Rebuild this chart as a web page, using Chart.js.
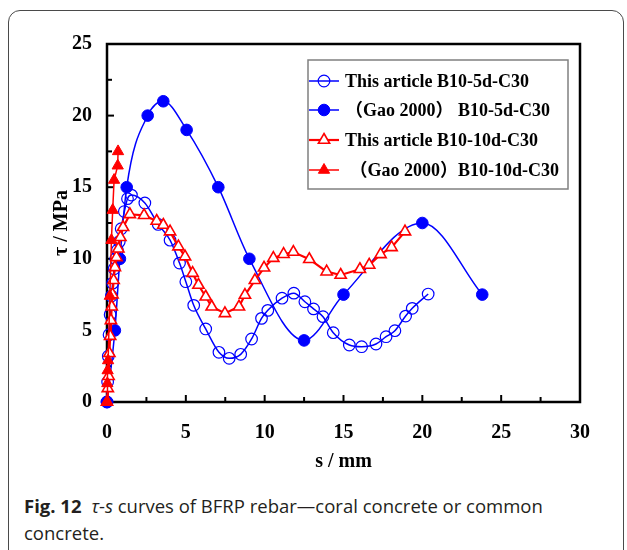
<!DOCTYPE html>
<html>
<head>
<meta charset="utf-8">
<script src="https://cdn.jsdelivr.net/npm/chart.js@4/dist/chart.umd.min.js"></script>
<style>
  html, body { margin: 0; padding: 0; background: #fff; }
  body { width: 627px; height: 550px; position: relative; overflow: hidden; }
  #card {
    position: absolute; left: 8px; top: 10px; width: 616px; height: 700px;
    border: 1px solid #4a4a4a; border-radius: 12px; box-sizing: border-box;
  }
  #wrap { position: absolute; left: 0; top: 0; width: 627px; height: 480px; }
  #caption {
    position: absolute; left: 24px; top: 492px; width: 560px;
    font-family: "Open Sans", sans-serif; font-size: 18.5px; line-height: 27px; color: #231f20;
  }
  #caption b { font-weight: 700; }
</style>
</head>
<body>
<div id="card"></div>
<div id="wrap"><canvas id="c" width="627" height="480"></canvas></div>
<div id="caption"><b>Fig. 12</b>&nbsp; <i>τ</i>-<i>s</i> curves of BFRP rebar—coral concrete or common concrete.</div>
<script>
// Series: slip s (mm) and bond stress τ (MPa)
const seriesNames = [
  'This article B10-5d-C30',
  '（Gao 2000） B10-5d-C30',
  'This article B10-10d-C30',
  ' （Gao 2000）B10-10d-C30'
];

const art5dS   = [0, 0.04, 0.08, 0.13, 0.2, 0.28, 0.36, 0.45, 0.55, 0.66, 0.78, 0.9, 1.1, 1.3, 1.55, 2.4, 3.25, 4.0, 4.6, 5.0, 5.5, 6.26, 7.1, 7.75, 8.48, 9.17, 9.8, 10.2, 11.1, 11.85, 12.55, 13.1, 13.7, 14.35, 15.37, 16.15, 17.06, 17.7, 18.26, 18.94, 19.36, 20.37];
const art5dTau = [0, 1.4, 3.2, 4.7, 6.1, 7.4, 8.3, 9.3, 10.0, 10.6, 11.2, 12.1, 13.3, 14.2, 14.45, 13.9, 12.4, 11.3, 9.7, 8.4, 6.75, 5.1, 3.47, 3.05, 3.33, 4.4, 5.84, 6.4, 7.25, 7.6, 7.0, 6.5, 5.96, 4.84, 3.98, 3.86, 4.05, 4.56, 4.98, 6.0, 6.54, 7.54];

const gao5dS   = [0, 0.5, 0.82, 1.25, 2.58, 3.57, 5.05, 7.06, 9.03, 12.5, 15.0, 20.0, 23.8];
const gao5dTau = [0, 5.0, 10.0, 15.0, 20.0, 21.0, 19.0, 15.0, 10.0, 4.3, 7.5, 12.5, 7.5];

const art10dS   = [0, 0.05, 0.1, 0.15, 0.2, 0.25, 0.3, 0.35, 0.42, 0.5, 0.6, 0.72, 0.85, 1.02, 1.45, 2.35, 3.15, 3.57, 4.0, 4.53, 4.95, 5.43, 5.8, 6.26, 6.64, 7.48, 8.37, 8.75, 9.38, 9.96, 10.55, 11.2, 11.82, 12.83, 13.93, 14.82, 16.04, 16.63, 17.35, 18.05, 18.9];
const art10dTau = [0, 0.95, 1.8, 3.4, 4.6, 5.7, 6.65, 7.5, 8.5, 9.4, 10.1, 10.7, 11.5, 12.2, 13.1, 13.04, 12.64, 12.36, 11.9, 10.85, 10.15, 9.0, 8.17, 7.35, 6.65, 6.19, 6.65, 7.47, 8.5, 9.37, 10.05, 10.32, 10.47, 9.97, 9.1, 8.87, 9.27, 9.57, 10.31, 10.8, 11.9];

const gao10dS   = [0, 0.02, 0.04, 0.07, 0.18, 0.28, 0.36, 0.45, 0.68, 0.7];
const gao10dTau = [0, 1.3, 2.2, 2.9, 7.4, 11.3, 13.4, 15.5, 16.5, 17.5];

// Axis tick labels (major) and minor tick step
const xTickLabels = [0, 5, 10, 15, 20, 25, 30];
const yTickLabels = [0, 5, 10, 15, 20, 25];
const minorStep = 2.5;

const BLUE = '#0000ff';
const RED = '#ff0000';
const SERIF = '"Liberation Serif", "Times New Roman", "Noto Sans CJK SC", serif';

const pts = (xs, ys) => xs.map((x, i) => ({ x, y: ys[i] }));

function tickList(majors) {
  const out = [];
  const max = majors[majors.length - 1];
  for (let v = majors[0]; v <= max + 1e-9; v += minorStep) out.push({ value: +v.toFixed(3) });
  return out;
}

// Closed frame plus inward tick marks on the bottom and left axes
const frameTicks = {
  id: 'frameTicks',
  beforeDatasetsDraw(chart) {
    const { ctx, chartArea: a, scales } = chart;
    ctx.save();
    ctx.strokeStyle = '#000';
    ctx.lineWidth = 2.5;
    ctx.strokeRect(a.left, a.top, a.right - a.left, a.bottom - a.top);
    ctx.lineWidth = 2;
    scales.x.ticks.forEach(t => {
      const px = scales.x.getPixelForValue(t.value);
      const major = xTickLabels.includes(t.value);
      ctx.beginPath();
      ctx.moveTo(px, a.bottom);
      ctx.lineTo(px, a.bottom - (major ? 7 : 5));
      ctx.stroke();
    });
    scales.y.ticks.forEach(t => {
      const py = scales.y.getPixelForValue(t.value);
      const major = yTickLabels.includes(t.value);
      ctx.beginPath();
      ctx.moveTo(a.left, py);
      ctx.lineTo(a.left + (major ? 7 : 5), py);
      ctx.stroke();
    });
    ctx.restore();
  }
};

// Boxed legend inside the plot area
const boxLegend = {
  id: 'boxLegend',
  afterDraw(chart) {
    const { ctx } = chart;
    const box = { x: 308, y: 60, w: 260, h: 129 };
    const rows = [81, 110, 140, 170];
    ctx.save();
    ctx.fillStyle = '#fff';
    ctx.fillRect(box.x, box.y, box.w, box.h);
    ctx.strokeStyle = '#808080';
    ctx.lineWidth = 1.5;
    ctx.strokeRect(box.x, box.y, box.w, box.h);
    chart.data.datasets.forEach((ds, i) => {
      const y = rows[i];
      ctx.strokeStyle = ds.borderColor;
      ctx.lineWidth = ds.borderWidth;
      ctx.beginPath();
      ctx.moveTo(309, y);
      ctx.lineTo(339, y);
      ctx.stroke();
      ctx.fillStyle = ds.pointBackgroundColor;
      ctx.lineWidth = ds.pointBorderWidth;
      Chart.helpers.drawPoint(ctx, {
        pointStyle: ds.pointStyle,
        radius: ds.pointRadius,
        borderWidth: ds.pointBorderWidth,
        rotation: 0
      }, 324, y);
      ctx.fillStyle = '#000';
      ctx.font = 'bold 18px ' + SERIF;
      ctx.textBaseline = 'middle';
      ctx.textAlign = 'left';
      ctx.fillText(ds.label, 345, y + 1);
    });
    ctx.restore();
  }
};

const chart = new Chart(document.getElementById('c'), {
  type: 'scatter',
  data: {
    datasets: [
      {
        label: seriesNames[0], data: pts(art5dS, art5dTau), showLine: true,
        borderColor: BLUE, borderWidth: 1.5, cubicInterpolationMode: 'monotone',
        pointStyle: 'circle', pointRadius: 5.8, pointBorderWidth: 1.2,
        pointBackgroundColor: 'rgba(255,255,255,0)', pointBorderColor: BLUE,
        clip: false, order: 2
      },
      {
        label: seriesNames[1], data: pts(gao5dS, gao5dTau), showLine: true,
        borderColor: BLUE, borderWidth: 1.5, cubicInterpolationMode: 'monotone',
        pointStyle: 'circle', pointRadius: 5.8, pointBorderWidth: 1,
        pointBackgroundColor: BLUE, pointBorderColor: BLUE,
        clip: false, order: 3
      },
      {
        label: seriesNames[2], data: pts(art10dS, art10dTau), showLine: true,
        borderColor: RED, borderWidth: 2.2, tension: 0,
        pointStyle: 'triangle', pointRadius: 6.5, pointBorderWidth: 1.6,
        pointBackgroundColor: '#ffffff', pointBorderColor: RED,
        clip: false, order: 1
      },
      {
        label: seriesNames[3], data: pts(gao10dS, gao10dTau), showLine: true,
        borderColor: RED, borderWidth: 1.5, tension: 0,
        pointStyle: 'triangle', pointRadius: 6.5, pointBorderWidth: 1,
        pointBackgroundColor: RED, pointBorderColor: RED,
        clip: false, order: 0
      }
    ]
  },
  options: {
    responsive: false,
    animation: false,
    devicePixelRatio: 1,
    layout: { padding: { left: 8, top: 44, right: 47, bottom: 0 } },
    plugins: { legend: { display: false }, tooltip: { enabled: false } },
    scales: {
      x: {
        type: 'linear', min: 0, max: 30,
        afterBuildTicks: s => { s.ticks = tickList(xTickLabels); },
        afterFit: s => { s.height = 78; },
        grid: { display: false, drawTicks: false },
        border: { display: false },
        ticks: {
          padding: 19, color: '#000', maxRotation: 0, autoSkip: false,
          font: { family: SERIF, size: 20, weight: 'bold' },
          callback: v => xTickLabels.includes(v) ? String(v) : ''
        },
        title: {
          display: true, text: 's / mm', color: '#000',
          font: { family: SERIF, size: 20, weight: 'bold' },
          padding: { top: 0, bottom: 6 }
        }
      },
      y: {
        type: 'linear', min: 0, max: 25,
        afterBuildTicks: s => { s.ticks = tickList(yTickLabels); },
        afterFit: s => { s.width = 99; },
        grid: { display: false, drawTicks: false },
        border: { display: false },
        ticks: {
          padding: 15, color: '#000', autoSkip: false,
          font: { family: SERIF, size: 20, weight: 'bold' },
          callback: v => yTickLabels.includes(v) ? String(v) : ''
        },
        title: {
          display: true, text: 'τ / MPa', color: '#000',
          font: { family: SERIF, size: 20, weight: 'bold' },
          padding: { top: 42, bottom: 0 }
        }
      }
    }
  },
  plugins: [frameTicks, boxLegend]
});
</script>
</body>
</html>
